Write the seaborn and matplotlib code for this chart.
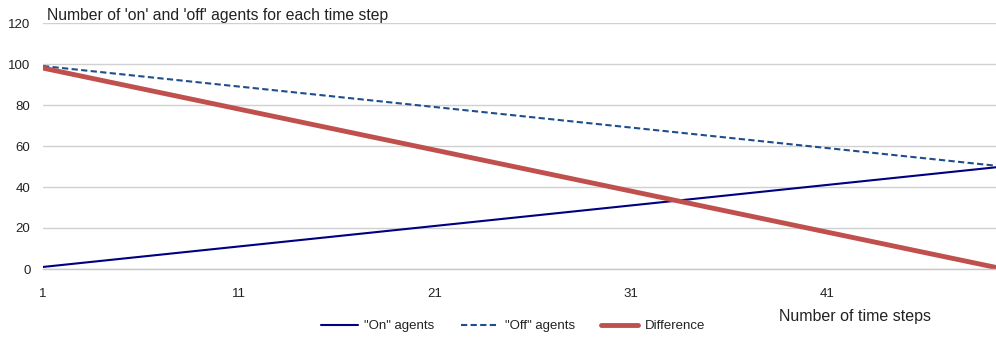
import pandas as pd
import numpy as np
import matplotlib
matplotlib.use("Agg")
import matplotlib.pyplot as plt
import seaborn as sns

# Data (time steps 1..50)
steps = list(range(1, 51))
on_agents = [1, 2, 3, 4, 5, 6, 7, 8, 9, 10,
             11, 12, 13, 14, 15, 16, 17, 18, 19, 20,
             21, 22, 23, 24, 25, 26, 27, 28, 29, 30,
             31, 32, 33, 34, 35, 36, 37, 38, 39, 40,
             41, 42, 43, 44, 45, 46, 47, 48, 49, 50]
off_agents = [99, 98, 97, 96, 95, 94, 93, 92, 91, 90,
              89, 88, 87, 86, 85, 84, 83, 82, 81, 80,
              79, 78, 77, 76, 75, 74, 73, 72, 71, 70,
              69, 68, 67, 66, 65, 64, 63, 62, 61, 60,
              59, 58, 57, 56, 55, 54, 53, 52, 51, 50]
difference = [98, 96, 94, 92, 90, 88, 86, 84, 82, 80,
              78, 76, 74, 72, 70, 68, 66, 64, 62, 60,
              58, 56, 54, 52, 50, 48, 46, 44, 42, 40,
              38, 36, 34, 32, 30, 28, 26, 24, 22, 20,
              18, 16, 14, 12, 10, 8, 6, 4, 2, 0]

df = pd.DataFrame({'step': steps, 'on': on_agents, 'off': off_agents, 'diff': difference})

sns.set_style("white")
plt.rcParams['font.family'] = ['Liberation Sans', 'DejaVu Sans']

fig = plt.figure(figsize=(9.96, 3.37), dpi=100)
ax = fig.add_axes([43/996, 1 - 269/337, (996 - 43)/996, (269 - 23)/337])

sns.lineplot(data=df, x='step', y='on', ax=ax, color='#000080', lw=1.5, label='"On" agents')
sns.lineplot(data=df, x='step', y='off', ax=ax, color='#1F4E8C', lw=1.5, ls=(0, (3, 1.6)), label='"Off" agents')
sns.lineplot(data=df, x='step', y='diff', ax=ax, color='#C0504D', lw=3.5, label='Difference')

ax.set_xlim(1, 1 + (996 - 43) / 19.6)
ax.set_ylim(0, 120)
ax.set_yticks([0, 20, 40, 60, 80, 100, 120])
ax.set_xticks([1, 11, 21, 31, 41])
ax.yaxis.grid(True, color='#D0D0D0', lw=1)
ax.set_axisbelow(True)
for s in ['top', 'right', 'left']:
    ax.spines[s].set_visible(False)
ax.spines['bottom'].set_color('#C8C8C8')
ax.spines['bottom'].set_linewidth(1)
ax.tick_params(axis='x', length=4, width=1, color='#C8C8C8', direction='out', pad=10, labelsize=9.5, labelcolor='#222222')
ax.tick_params(axis='y', length=0, pad=9, labelsize=9.5, labelcolor='#222222')
ax.set_xlabel('')
ax.set_ylabel('')

fig.text(47/996, 1 - 20/337, "Number of 'on' and 'off' agents for each time step",
         fontsize=11.3, color='#222222', ha='left', va='baseline')
fig.text(855/996, 1 - 316/337, "Number of time steps", fontsize=11.5, color='#222222',
         ha='center', va='center')

handles, labels = ax.get_legend_handles_labels()
ax.get_legend().remove()
fig.legend(handles, labels, loc='center', bbox_to_anchor=(513/996, 1 - 326/337), ncol=3,
           frameon=False, fontsize=9.5, handlelength=2.8, handletextpad=0.5, columnspacing=2.0,
           labelcolor='#222222')

fig.savefig('out.png', dpi=100)
